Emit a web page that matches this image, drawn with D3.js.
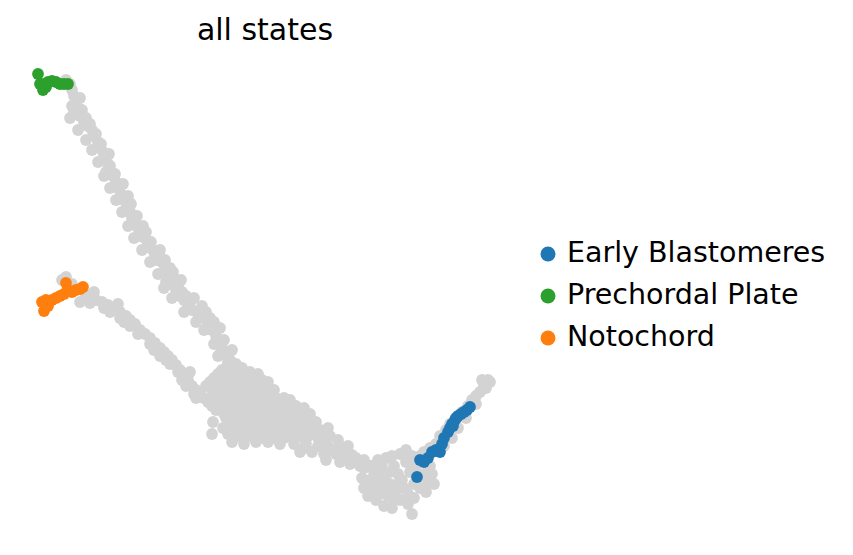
<!DOCTYPE html>
<html>
<head>
<meta charset="utf-8">
<script src="https://cdn.jsdelivr.net/npm/d3@7"></script>
<style>
  html, body { margin: 0; padding: 0; background: #fff; }
  svg { display: block; }
  text { font-family: "DejaVu Sans", sans-serif; fill: #000; }
</style>
</head>
<body>
<svg id="chart" width="853" height="555"></svg>
<script>
// ---- data (embedding coordinates: [umap1, umap2]) ----
const title = "all states";
const categories = ["Early Blastomeres", "Prechordal Plate", "Notochord"];
const categoryColors = ["#1f77b4", "#2ca02c", "#ff7f0e"];

const greyCells = [
  // upper branch
  [6.6,47.5],[7.0,47.1],[7.2,46.5],[7.4,45.9],[7.6,45.3],[7.8,44.7],[7.4,44.3],[8.0,43.9],
  [8.4,43.3],[8.8,42.9],[9.2,42.5],[9.4,41.9],[9.8,41.3],[10.0,40.7],[10.3,40.3],[10.5,39.7],
  [10.8,39.1],[11.0,38.5],[11.3,37.9],[11.6,37.3],[11.8,36.7],[12.1,36.1],[12.4,35.5],[12.7,34.9],
  [13.0,34.3],[13.2,33.7],[13.5,33.1],[13.8,32.7],[14.2,32.1],[14.5,31.7],[14.8,31.1],[15.1,30.7],
  [15.4,30.3],[15.8,29.9],[16.2,29.3],[16.5,28.7],[16.8,28.1],[17.0,27.5],[17.2,27.1],[17.6,26.5],
  [18.0,25.9],[18.4,25.5],[18.8,24.9],[19.2,24.5],[19.8,24.1],[20.4,23.7],[20.8,23.1],[21.2,22.5],
  [21.6,21.9],[21.8,21.3],[22.2,20.7],[22.6,20.1],[23.0,19.5],
  [8.0,45.7],[7.2,44.9],[8.6,43.7],[9.6,42.1],[11.0,38.9],[10.6,38.3],[12.0,36.9],[12.8,35.9],
  [13.1,35.1],[14.0,31.9],[14.6,32.3],[15.6,29.5],[16.0,30.5],[17.0,28.7],[17.4,27.7],[16.6,27.3],
  [17.8,26.9],[18.2,26.3],[18.6,25.9],[19.0,25.3],[20.6,24.3],[21.0,23.7],[21.4,23.3],[22.0,22.7],
  [21.4,21.1],[22.0,20.1],[23.2,20.5],[22.4,21.5],[21.8,19.9],[22.8,19.1],
  [8.2,44.5],[9.0,43.1],[10.1,41.1],[10.9,40.1],[11.5,38.1],[12.3,37.1],[12.9,35.3],[13.7,33.9],
  [14.3,32.9],[15.1,31.3],[15.9,30.1],[16.5,29.5],[17.3,28.3],[18.1,27.5],[19.4,25.7],[20.2,24.9],
  [7.0,43.7],[7.8,42.5],[8.6,41.5],[9.2,40.5],[9.8,39.3],[10.4,37.9],[11.0,36.7],[11.6,35.5],
  [12.2,34.3],[12.8,32.9],[13.4,31.7],[14.2,30.5],[15.0,29.3],[15.8,28.1],[16.4,26.7],[17.2,25.7],
  [18.4,24.3],[19.6,23.3],[20.4,22.5],
  // lower branch
  [6.6,27.8],[7.2,27.1],[8.0,25.3],[8.6,26.0],[9.0,25.8],[9.6,25.5],[10.2,25.3],[10.8,25.0],
  [11.4,24.7],[12.0,24.3],[12.6,23.9],[13.0,23.5],[13.5,23.1],[14.0,22.5],[14.5,22.1],[15.0,21.7],
  [15.5,21.2],[16.0,20.7],[16.4,20.3],[16.8,19.9],[17.2,19.5],[17.6,19.0],[18.0,18.5],[18.4,17.9],
  [18.8,17.5],[19.2,16.9],[19.6,16.5],[20.0,16.1],[20.4,15.7],[20.8,15.3],[21.2,14.9],[21.6,14.5],
  [11.0,24.3],[12.4,23.3],[13.8,22.1],[15.4,20.5],[16.0,19.9],[17.0,19.1],[17.8,18.3],[18.6,16.9],
  [19.4,16.1],[19.0,18.3],[6.2,27.5],[9.4,26.3],[11.8,25.1],
  [13.0,22.9],[15.0,21.1],[16.6,19.5],[18.2,17.5],[19.6,15.7],[12.0,23.7],[10.4,24.7],[9.0,25.2],
  // main body
  [22.8,19.3],[23.6,19.1],
  [22.2,18.5],[23.2,18.5],[24.2,18.7],[25.0,18.3],
  [21.8,18.1],[22.8,18.1],[23.8,18.1],[24.8,18.1],[25.8,18.1],
  [21.4,17.7],[22.4,17.7],[23.4,17.7],[24.4,17.7],[25.4,17.7],[26.2,17.5],
  [21.0,17.3],[22.0,17.3],[23.0,17.3],[24.0,17.3],[25.0,17.3],[26.0,17.3],[26.8,17.3],
  [20.6,16.9],[21.6,16.9],[22.6,16.9],[23.6,16.9],[24.6,16.9],[25.6,16.9],[26.6,16.9],[27.4,16.5],
  [21.2,16.5],[22.2,16.5],[23.2,16.5],[24.2,16.5],[25.2,16.5],[26.2,16.5],[27.0,16.5],
  [21.4,16.1],[22.4,16.1],[23.4,16.1],[24.4,16.1],[25.4,16.1],[26.4,16.1],[27.4,15.9],[28.4,15.7],
  [21.6,15.7],[22.6,15.7],[23.6,15.7],[24.6,15.7],[25.6,15.7],[26.6,15.7],[27.6,15.7],[29.0,15.5],
  [21.8,15.3],[22.8,15.3],[23.8,15.3],[24.8,15.3],[25.8,15.3],[26.8,15.3],[27.8,15.1],[28.8,15.1],[29.6,14.9],
  [22.0,14.9],[23.0,14.9],[24.0,14.9],[25.0,14.9],[26.0,14.9],[27.0,14.9],[28.0,14.9],[30.4,14.7],
  [22.2,14.5],[23.2,14.5],[24.2,14.5],[25.2,14.5],[26.2,14.5],[27.2,14.5],[28.2,14.3],[29.2,14.3],[30.2,14.3],[31.0,14.1],
  [22.4,14.1],[23.4,14.1],[24.4,14.1],[25.4,14.1],[26.4,14.1],[27.4,14.1],[28.4,14.1],[29.4,14.1],[30.4,14.1],
  [22.6,13.7],[23.6,13.7],[24.6,13.7],[25.6,13.7],[26.6,13.7],[27.6,13.7],[28.6,13.5],[29.6,13.5],[30.6,13.5],[31.6,13.3],
  [22.8,13.3],[23.8,13.3],[24.8,13.3],[25.8,13.3],[26.8,13.3],[27.8,13.3],[28.8,13.3],[29.8,13.3],[30.8,13.3],
  [23.0,12.9],[24.0,12.9],[25.0,12.9],[26.0,12.9],[27.0,12.9],[28.0,12.7],[29.0,12.7],[30.0,12.7],[31.0,12.7],[32.0,12.5],[32.8,12.7],
  [23.4,12.5],[24.4,12.5],[25.4,12.5],[26.4,12.5],[27.4,12.5],[28.4,12.5],[29.4,12.5],[30.4,12.5],[31.4,12.5],
  [22.8,12.1],[23.8,12.1],[24.8,12.1],[25.8,12.1],[26.8,12.1],[27.8,11.9],[28.8,11.9],[29.8,11.9],[30.8,11.9],[31.8,11.7],[33.0,11.9],[33.8,11.5],
  [23.4,11.7],[24.4,11.7],[25.4,11.7],[26.4,11.7],[27.4,11.7],[28.4,11.7],[29.4,11.7],[30.4,11.7],[32.4,11.7],
  [23.2,11.3],[24.4,11.1],[25.6,11.3],[26.8,11.3],[28.0,11.1],[29.4,11.1],[30.6,11.1],[31.8,10.9],[32.8,10.9],[34.0,10.9],[34.8,10.9],
  [30.0,10.3],[31.2,10.3],[32.4,10.1],[33.6,10.1],[34.6,9.9],[35.6,9.7],[30.4,10.7],[33.2,10.5],[36.4,9.5],
  [32.6,9.5],[34.0,9.3],[35.0,9.1],[36.0,8.9],[37.0,8.9],
  [21.3,13.3],[22.3,12.7],[21.2,12.1],
  // right lobe
  [34.5,10.5],[35.2,10.0],[35.8,9.3],[36.4,8.7],[37.2,8.9],[37.8,9.5],[38.6,9.7],[39.2,9.9],
  [40.0,10.1],[40.6,10.5],[41.2,9.9],[38.0,8.5],[37.6,7.9],[38.4,7.5],[39.0,7.1],[37.6,6.9],
  [37.0,6.5],[38.0,6.1],[38.8,5.9],[39.6,6.3],[40.0,5.5],[40.8,5.1],[38.4,4.9],[37.6,5.5],
  [36.8,5.9],[39.2,4.7],[41.2,4.1],[40.4,6.7],[41.4,7.1],[42.0,6.7],[42.6,6.3],[42.8,7.3],
  [42.4,8.1],[43.0,8.9],[41.6,8.9],[41.0,8.3],[39.8,8.1],[40.2,7.5],[36.2,7.7],[37.0,7.5],
  [38.2,9.1],[39.4,8.9],[40.6,9.3],[39.0,8.3],[38.6,6.7],[39.4,5.5],[40.8,6.1],[41.4,5.7],
  [39.8,7.1],[36.4,6.7],[37.4,8.3],[41.8,7.7],[43.2,8.1],[43.4,7.1],
  // right tip
  [42.0,9.9],[42.4,10.3],[43.0,10.7],[43.6,11.1],[44.0,11.9],[44.6,12.5],[45.0,13.1],[45.6,13.5],
  [46.2,14.3],[46.8,14.9],[47.2,15.5],[47.6,15.9],[48.0,16.3],[48.4,16.9],[48.8,17.5],[48.6,16.7],
  [47.6,15.1],[46.6,13.7],[45.8,12.7],[45.2,11.7],[44.4,10.9],[49.0,17.3],[48.2,17.5]
];

const earlyBlastomeres = [
  [41.7,7.8],[42.0,9.5],[42.4,9.3],[42.8,9.7],[43.2,10.3],[43.6,10.5],[44.0,10.3],[44.2,11.1],
  [44.4,11.7],[44.8,12.3],[45.0,12.7],[45.2,13.1],[45.5,13.5],[45.8,13.9],[46.1,14.1],[46.4,14.3],
  [46.7,14.5],[47.0,14.8],[45.6,13.7],[45.3,12.9]
];
const prechordalPlate = [
  [3.8,48.1],[4.0,47.1],[4.3,46.5],[4.4,47.1],[4.8,47.3],[5.2,47.4],[5.6,47.3],[6.0,47.1],
  [6.4,47.1],[6.8,47.1],[4.6,46.8]
];
const notochord = [
  [4.2,25.3],[4.4,24.4],[4.8,24.9],[4.6,25.5],[5.2,25.5],[5.6,25.7],[6.0,25.9],[6.4,26.1],
  [6.6,27.2],[6.8,26.5],[7.2,26.3],[7.6,26.5],[8.0,26.6],[8.3,26.8]
];

// ---- drawing ----
const svg = d3.select("#chart");
const x = d3.scaleLinear().domain([3.0, 50.0]).range([30, 500]);
const y = d3.scaleLinear().domain([5.0, 49.0]).range([505, 65]);
const r = 5.9;
const grey = "#d3d3d3";

const plot = svg.append("g");
plot.selectAll("circle.grey").data(greyCells).join("circle")
  .attr("class", "grey")
  .attr("cx", d => x(d[0])).attr("cy", d => y(d[1])).attr("r", r)
  .attr("fill", grey);

const groups = [earlyBlastomeres, prechordalPlate, notochord];
groups.forEach((pts, i) => {
  plot.append("g").selectAll("circle").data(pts).join("circle")
    .attr("cx", d => x(d[0])).attr("cy", d => y(d[1])).attr("r", r)
    .attr("fill", categoryColors[i]);
});

svg.append("text")
  .attr("x", 265).attr("y", 40)
  .attr("text-anchor", "middle")
  .style("font-size", "30px")
  .text(title);

const legend = svg.append("g");
const legendY = d3.scalePoint().domain(categories).range([254, 338]);
const items = legend.selectAll("g").data(categories).join("g")
  .attr("transform", d => `translate(0,${legendY(d)})`);
items.append("circle").attr("cx", 548).attr("cy", 0).attr("r", 7.5)
  .attr("fill", (d, i) => categoryColors[i]);
items.append("text").attr("x", 567).attr("y", 8)
  .style("font-size", "28.5px")
  .text(d => d);
</script>
</body>
</html>
